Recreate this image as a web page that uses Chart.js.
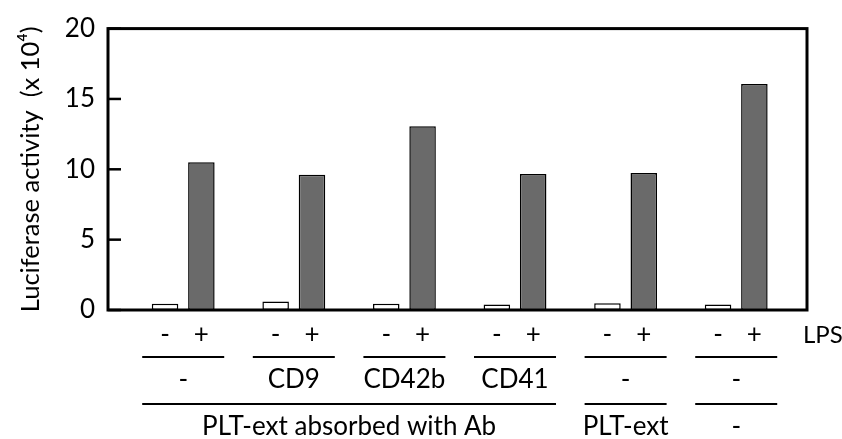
<!DOCTYPE html>
<html>
<head>
<meta charset="utf-8">
<script src="https://cdn.jsdelivr.net/npm/chart.js@4"></script>
<style>
	html, body { margin: 0; padding: 0; background: #fff; }
	#wrap { width: 842px; height: 439px; }
</style>
</head>
<body>
<div id="wrap"><canvas id="lucChart"></canvas></div>
<script>
// one entry per bar pair
const groupIdx = [0, 1, 2, 3, 4, 5];
const lpsMinus = [0.45, 0.6, 0.45, 0.39, 0.48, 0.39];
const lpsPlus = [10.5, 9.62, 13.06, 9.67, 9.74, 16.06];
const yTicks = [0, 5, 10, 15, 20];

const lpsLabels = ['-', '+'];
const abLabels = ['-', 'CD9', 'CD42b', 'CD41', '-', '-'];
// bottom row: text + which groups the line spans
const sourceRows = [
	{ text: 'PLT-ext absorbed with Ab', from: 0, to: 3 },
	{ text: 'PLT-ext', from: 4, to: 4 },
	{ text: '-', from: 5, to: 5 }
];

const FONT = 'Lato, "Open Sans", sans-serif';

const framePlugin = {
	id: 'framePlugin',
	afterDraw(chart) {
		const { ctx, chartArea: a, scales } = chart;
		const y = scales.y;
		ctx.save();
		ctx.strokeStyle = '#000';
		ctx.lineWidth = 3;
		ctx.strokeRect(a.left, a.top, a.right - a.left, a.bottom - a.top);

		// inward tick marks
		ctx.lineWidth = 2.5;
		yTicks.forEach(t => {
			const py = y.getPixelForValue(t);
			ctx.beginPath();
			ctx.moveTo(a.left, py);
			ctx.lineTo(a.left + 13, py);
			ctx.stroke();
		});

		// labels under the axis
		const mMinus = chart.getDatasetMeta(0).data;
		const mPlus = chart.getDatasetMeta(1).data;
		const centers = groupIdx.map(i => (mMinus[i].x + mPlus[i].x) / 2);
		const half = 41;

		ctx.fillStyle = '#000';
		ctx.font = '26px ' + FONT;
		ctx.textAlign = 'center';
		ctx.textBaseline = 'middle';
		ctx.lineWidth = 2;

		groupIdx.forEach(i => {
			ctx.fillText(lpsLabels[0], mMinus[i].x, a.bottom + 25);
			ctx.fillText(lpsLabels[1], mPlus[i].x, a.bottom + 25);
			ctx.beginPath();
			ctx.moveTo(centers[i] - half, a.bottom + 47);
			ctx.lineTo(centers[i] + half, a.bottom + 47);
			ctx.stroke();
			ctx.fillText(abLabels[i], centers[i], a.bottom + 70);
		});
		ctx.font = '24px ' + FONT;
		ctx.textAlign = 'left';
		ctx.fillText('LPS', a.right - 4, a.bottom + 25);
		ctx.font = '26px ' + FONT;
		ctx.textAlign = 'center';

		sourceRows.forEach(r => {
			const x0 = centers[r.from] - half;
			const x1 = centers[r.to] + half;
			ctx.beginPath();
			ctx.moveTo(x0, a.bottom + 94);
			ctx.lineTo(x1, a.bottom + 94);
			ctx.stroke();
			ctx.fillText(r.text, (x0 + x1) / 2, a.bottom + 117);
		});
		ctx.restore();
	}
};

const ctx = document.getElementById('lucChart').getContext('2d');
new Chart(ctx, {
	type: 'bar',
	data: {
		datasets: [
			{
				label: 'LPS -',
				data: groupIdx.map(i => ({ x: i, y: lpsMinus[i] })),
				backgroundColor: '#ffffff',
				borderColor: '#000',
				borderWidth: 1.5,
				borderSkipped: false
			},
			{
				label: 'LPS +',
				data: groupIdx.map(i => ({ x: i, y: lpsPlus[i] })),
				backgroundColor: '#6a6a6a',
				borderColor: '#000',
				borderWidth: 1.5,
				borderSkipped: false
			}
		]
	},
	options: {
		responsive: true,
		maintainAspectRatio: false,
		animation: false,
		categoryPercentage: 0.657,
		barPercentage: 0.73,
		layout: { padding: { top: 21, right: 35, left: 0, bottom: 0 } },
		plugins: {
			legend: { display: false },
			tooltip: { enabled: false }
		},
		scales: {
			x: {
				type: 'linear',
				min: -0.68,
				max: 5.64,
				offset: false,
				afterBuildTicks: s => { s.ticks = groupIdx.map(v => ({ value: v })); },
				grid: { display: false, drawTicks: false },
				border: { display: false },
				ticks: { display: false },
				afterFit: s => { s.height = 129; }
			},
			y: {
				min: 0,
				max: 20,
				afterBuildTicks: s => { s.ticks = yTicks.map(v => ({ value: v })); },
				grid: { display: false, drawTicks: false },
				border: { display: false },
				ticks: {
					padding: 13,
					color: '#000',
					font: { family: FONT, size: 26 }
				},
				title: {
					display: true,
					text: 'Luciferase activity  (x 10⁴)',
					color: '#000',
					font: { family: FONT, size: 25.5 },
					padding: { top: 15, bottom: 0 }
				},
				afterFit: s => { s.width = 108; }
			}
		}
	},
	plugins: [framePlugin]
});
</script>
</body>
</html>
